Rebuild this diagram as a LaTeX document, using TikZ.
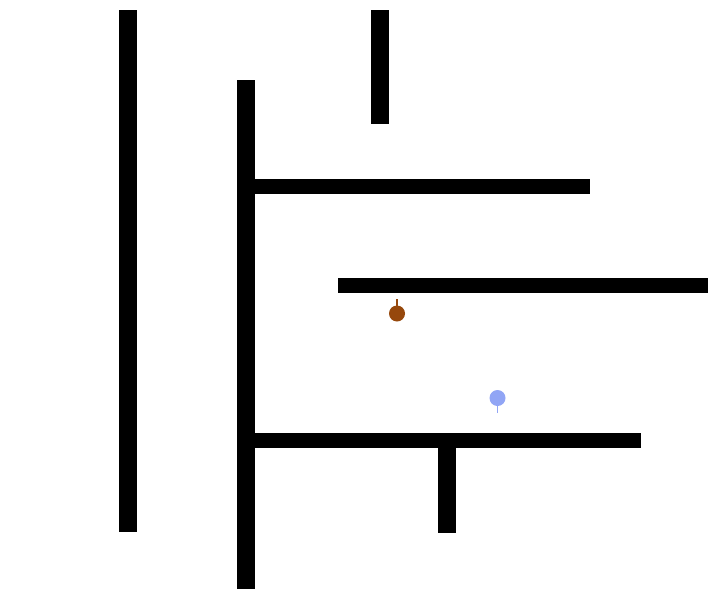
\documentclass[tikz,border=0pt]{standalone}
\usepackage{tikz}
\definecolor{agentbrown}{RGB}{150,72,12}
\definecolor{agentblue}{RGB}{145,165,245}
\begin{document}
\begin{tikzpicture}[x=0.02cm, y=-0.02cm,
		wall/.style={fill=black, draw=none},
		agent/.style={draw=none}]
			\useasboundingbox (0,0) rectangle (719,608);
			
			% aeussere Waende
			\fill[wall] (119,10) rectangle (137,532);
			\fill[wall] (237,80) rectangle (255,589);
			\fill[wall] (371,10) rectangle (389,124);
			
			% Querwaende
			\fill[wall] (255,179) rectangle (590,194);
			\fill[wall] (338,278) rectangle (708,293);
			\fill[wall] (255,433) rectangle (641,448);
			\fill[wall] (438,448) rectangle (456,533);
			
			% Agenten
			\fill[agent, agentbrown] (397,313.5) circle (8);
			\draw[agentbrown, line width=0.6pt] (397,305.5) -- (397,299);
			
			\fill[agent, agentblue] (497.5,398) circle (8);
			\draw[agentblue, line width=0.6pt] (497.5,406) -- (497.5,413);
			
		\end{tikzpicture}
\end{document}
